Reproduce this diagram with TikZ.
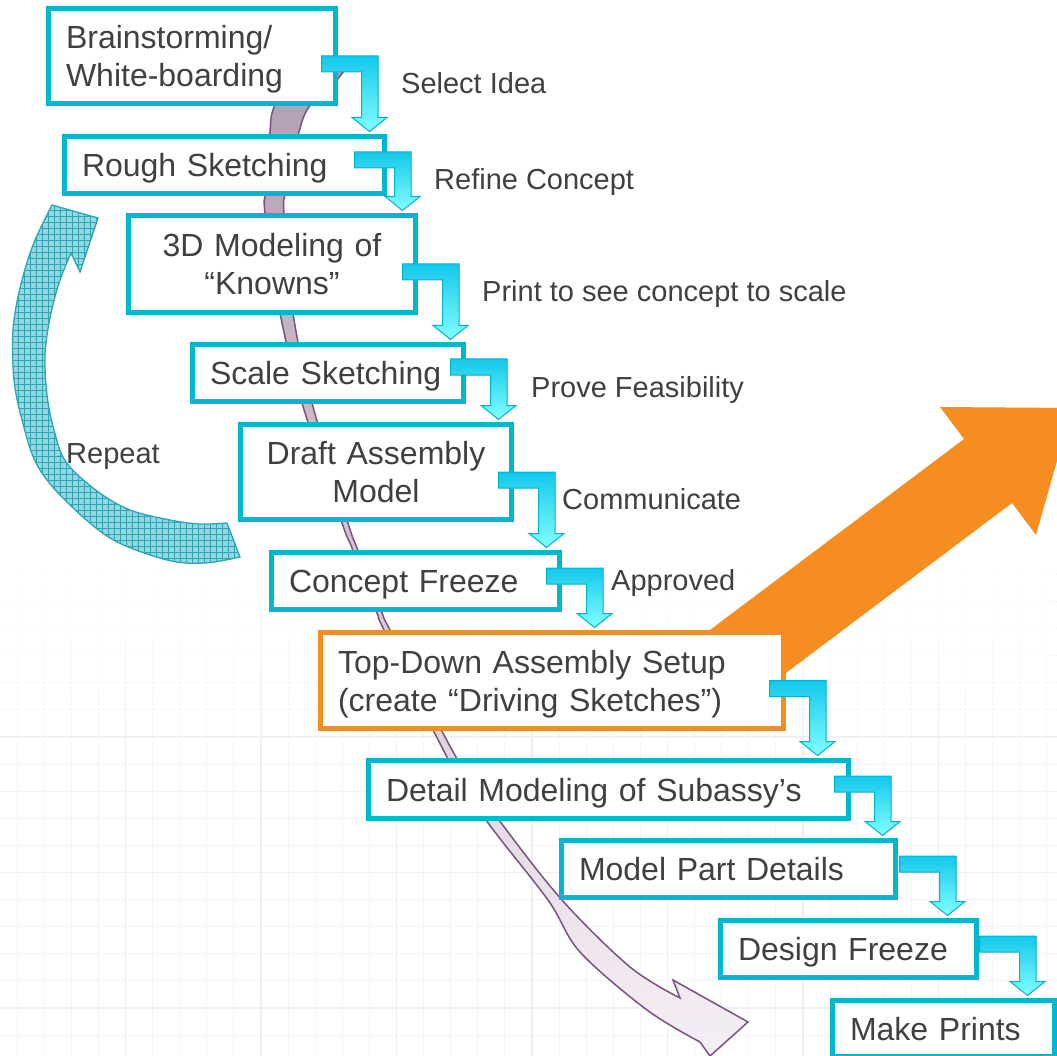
\documentclass[tikz,border=0pt]{standalone}
\usepackage{fontspec}
\setmainfont{Liberation Sans}
\usetikzlibrary{calc,fadings,patterns.meta}

\definecolor{boxcyan}{RGB}{0,183,207}
\definecolor{conntop}{RGB}{20,200,235}
\definecolor{connbot}{RGB}{128,255,255}
\definecolor{connline}{RGB}{0,178,205}
\definecolor{orng}{RGB}{246,141,32}
\definecolor{txt}{RGB}{64,64,64}
\definecolor{purpline}{RGB}{122,82,128}
\definecolor{purptop}{RGB}{176,158,178}
\definecolor{purpmid}{RGB}{208,186,208}
\definecolor{purpbot}{RGB}{246,238,245}
\definecolor{repfill}{RGB}{150,214,224}
\definecolor{repline}{RGB}{45,165,180}
\definecolor{gminc}{RGB}{242,244,249}
\definecolor{gmajc}{RGB}{235,238,245}

\tikzfading[name=gridfade, top color=transparent!0, bottom color=transparent!100]

\newcommand\boxfont{\fontsize{32}{38}\selectfont}
\newcommand\lblfont{\fontsize{29}{35}\selectfont}

% elbow connector: #1 from node, #2 to node, #3 bar start offset from outer right edge, #4 bar top above centre
\newcommand\conn[4]{%
  \path[connector] let \p1=(#1.east), \p2=(#2.north),
      \n1={\x1+2.5pt+(#3pt)}, \n2={\y1+(#4pt)}, \n3={\y2+2.5pt} in
    ({\n1},{\n2}) -- ({\n1+56.5pt},{\n2}) -- ({\n1+56.5pt},{\n3+14pt})
    -- ({\n1+65.5pt},{\n3+14pt}) -- ({\n1+48pt},{\n3}) -- ({\n1+30.5pt},{\n3+14pt})
    -- ({\n1+40pt},{\n3+14pt}) -- ({\n1+40pt},{\n2-16pt}) -- ({\n1},{\n2-16pt}) -- cycle;}

\tikzset{
  stepbox/.style={draw=boxcyan, line width=5pt, fill=white, inner xsep=17.5pt,
    inner ysep=0pt, text=txt, font=\boxfont, text height=23pt, text depth=0pt, align=left},
  twoline/.style={text depth=38pt},
  orangebox/.style={draw=orng},
  lbl/.style={font=\lblfont, text=txt, anchor=base west, inner sep=0pt},
  connector/.style={draw=connline, line width=1pt, top color=conntop, bottom color=connbot},
  gminor/.style={draw=gminc, line width=1pt},
  gmajor/.style={draw=gmajc, line width=1.4pt},
  purparrow/.style={draw=purpline, line width=1.5pt, top color=purptop, middle color=purpmid, bottom color=purpbot},
  reparrow/.style={preaction={fill=repfill}, pattern={Hatch[angle=0,distance=6pt,line width=0.55pt]},
    pattern color=repline, draw=repline, line width=1.3pt},
}

\begin{document}
\begin{tikzpicture}[x=1pt, y=1pt]
\useasboundingbox (0,0) rectangle (1057,-1056);
\clip (0,0) rectangle (1057,-1056);
\fill[white] (0,0) rectangle (1057,-1056);

% faint background grid
\foreach \k in {-6,...,12}{
  \pgfmathsetmacro\yy{737+27.1*\k}
  \pgfmathtruncatemacro\mm{mod(\k+100,5)}
  \ifnum\mm=0 \draw[gmajor] (0,-\yy) -- (1057,-\yy); \else \draw[gminor] (0,-\yy) -- (1057,-\yy); \fi
}
\foreach \k in {0,...,38}{
  \pgfmathsetmacro\xx{17+27.1*\k}
  \pgfmathtruncatemacro\mm{mod(\k,5)}
  \ifnum\mm=4 \draw[gmajor] (\xx,-570) -- (\xx,-1056); \else \draw[gminor] (\xx,-570) -- (\xx,-1056); \fi
}
\fill[white] (0,0) rectangle (1057,-570);
\fill[white, path fading=gridfade] (0,-569) rectangle (1057,-770);

% long purple curved arrow
\path[purparrow] plot[smooth, tension=0.55] coordinates {
  (352,-60) (332,-86) (309,-107) (299,-132) (286,-190) (284,-215) (293,-313) (312,-403)
  (348,-523) (357,-548) (382,-613) (390,-630) (456,-757) (499,-820) (562,-900) (630,-967) (680,-998)}
  -- (673,-980) -- (748,-1022) -- (710,-1056)
  -- plot[smooth, tension=0.55] coordinates {
  (700,-1042) (647,-1010) (580,-952) (548,-900) (486,-820) (447,-757) (384,-630) (377,-613)
  (352,-548) (342,-523) (302,-403) (280,-313) (265,-213) (266,-190) (270,-132) (274,-107) (298,-55)}
  -- cycle;

% big orange arrow
\fill[orng] (678,-654) -- (964,-439) -- (940,-407) -- (1072,-408) -- (1036,-535)
  -- (1012,-503) -- (726,-718) -- cycle;

% Repeat arrow
\path[reparrow] plot[smooth, tension=0.55] coordinates {
  (52,-205) (33,-245) (20,-288) (13,-330) (14,-380) (22,-420) (36,-463) (62,-497)
  (110,-538) (167,-560) (205,-563) (240,-557)}
  -- plot[smooth, tension=0.55] coordinates {
  (227,-523) (200,-524) (170,-520) (130,-510) (97,-491) (66,-462) (54,-430) (47,-395)
  (45,-355) (50,-318) (59,-283) (71,-253)}
  -- (80,-272) -- (98,-218) -- cycle;

% boxes
\node[stepbox, twoline, minimum width=287pt, minimum height=95pt, text width=252pt] (b1) at (192,-56)
  {\mbox{Brainstorming/}\\\mbox{White-boarding}};
\node[stepbox, minimum width=320pt, minimum height=57pt, text width=285pt] (b2) at (224.5,-165)
  {\mbox{Rough Sketching}};
\node[stepbox, twoline, align=center, minimum width=287pt, minimum height=97pt, text width=252pt] (b3) at (272,-264)
  {\mbox{3D Modeling of}\\\mbox{“Knowns”}};
\node[stepbox, minimum width=271pt, minimum height=57pt, text width=236pt] (b4) at (328,-373)
  {\mbox{Scale Sketching}};
\node[stepbox, twoline, align=center, minimum width=271pt, minimum height=95pt, text width=236pt] (b5) at (376,-472)
  {\mbox{Draft Assembly}\\\mbox{Model}};
\node[stepbox, minimum width=288pt, minimum height=57pt, text width=253pt] (b6) at (415.5,-581)
  {\mbox{Concept Freeze}};
\node[stepbox, orangebox, twoline, minimum width=463pt, minimum height=96pt, text width=428pt] (b7) at (552,-680.5)
  {\mbox{Top-Down Assembly Setup}\\\mbox{(create “Driving Sketches”)}};
\node[stepbox, minimum width=480pt, minimum height=58pt, text width=445pt] (b8) at (608.5,-789.5)
  {\mbox{Detail Modeling of Subassy’s}};
\node[stepbox, minimum width=334pt, minimum height=57pt, text width=299pt] (b9) at (728.5,-869)
  {\mbox{Model Part Details}};
\node[stepbox, minimum width=256pt, minimum height=57pt, text width=221pt] (b10) at (848.5,-949)
  {\mbox{Design Freeze}};
\node[stepbox, minimum width=222pt, minimum height=56pt, text width=187pt] (b11) at (943.5,-1028.5)
  {\mbox{Make Prints}};

% connectors
\conn{b1}{b2}{-19}{0}
\conn{b2}{b3}{-35}{13}
\conn{b3}{b4}{-18}{0}
\conn{b4}{b5}{-18}{14}
\conn{b5}{b6}{-18}{0}
\conn{b6}{b7}{-18}{13}
\conn{b7}{b8}{-19}{0}
\conn{b8}{b9}{-19}{13.5}
\conn{b9}{b10}{-1}{13}
\conn{b10}{b11}{-2}{13}

% labels
\node[lbl] (l1) at (401,-94) {Select Idea};
\node[lbl] (l2) at (434,-190) {Refine Concept};
\node[lbl] (l3) at (482,-302) {Print to see concept to scale};
\node[lbl] (l4) at (531,-397) {Prove Feasibility};
\node[lbl] (l5) at (562,-509) {Communicate};
\node[lbl] (l6) at (611,-590) {Approved};
\node[lbl] (rep) at (66,-463) {Repeat};
\end{tikzpicture}
\end{document}
